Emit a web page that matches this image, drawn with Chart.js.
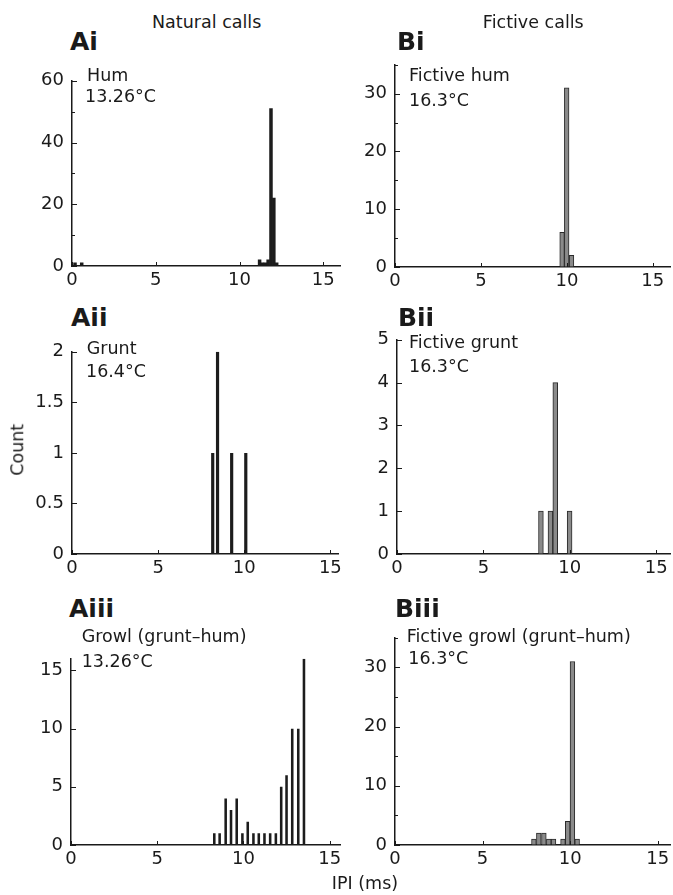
<!DOCTYPE html>
<html><head><meta charset="utf-8">
<script src="https://cdn.jsdelivr.net/npm/chart.js@4.4.1/dist/chart.umd.min.js"></script>
<style>
html,body{margin:0;padding:0;background:#fff;}
#wrap{position:relative;width:673px;height:895px;overflow:hidden;font-family:'DejaVu Sans',sans-serif;color:#1a1a1a;}
canvas{position:absolute;}
.t{position:absolute;white-space:nowrap;line-height:1;font-size:17.5px;}
.b{font-weight:bold;font-size:25px;}
</style></head><body><div id="wrap"></div>
<script>
// ---- data ----
const humIPI = [0.18, 0.58, 11.2, 11.37, 11.54, 11.71, 11.88, 12.05, 12.22];
const humCount = [1, 1, 2, 1, 1, 2, 51, 22, 1];
const gruntIPI = [8.17, 8.45, 9.27, 10.09];
const gruntCount = [1, 2, 1, 1];
const growlIPI = [8.31, 8.62, 8.97, 9.28, 9.61, 9.94, 10.25, 10.58, 10.89, 11.22, 11.55, 11.88, 12.19, 12.5, 12.83, 13.18, 13.51];
const growlCount = [1, 1, 4, 3, 4, 1, 2, 1, 1, 1, 1, 1, 5, 6, 10, 10, 16];
const fHumIPI = [9.72, 9.99, 10.27];
const fHumCount = [6, 31, 2];
const fGruntIPI = [8.33, 8.88, 9.16, 9.99];
const fGruntCount = [1, 1, 4, 1];
const fGrowlIPI = [7.93, 8.21, 8.5, 8.78, 9.05, 9.59, 9.86, 10.13, 10.4];
const fGrowlCount = [1, 2, 2, 1, 1, 1, 4, 31, 1];
const xTickStep = 5;

Chart.defaults.font.family = "'DejaVu Sans', sans-serif";
Chart.defaults.font.size = 17.5;
Chart.defaults.color = '#1a1a1a';

const wrap = document.getElementById('wrap');

const inwardTicks = {
  id: 'inwardTicks',
  afterDraw(chart) {
    const {ctx, scales: {x, y}} = chart;
    ctx.save();
    ctx.strokeStyle = '#1a1a1a';
    ctx.lineWidth = 1;
    ctx.beginPath();
    x.ticks.forEach(t => {
      const px = Math.round(x.getPixelForValue(t.value)) + 0.5;
      ctx.moveTo(px, y.bottom); ctx.lineTo(px, y.bottom - 4);
    });
    y.ticks.forEach(t => {
      const py = Math.round(y.getPixelForValue(t.value)) + 0.5;
      const major = t.label !== '';
      ctx.moveTo(x.left, py); ctx.lineTo(x.left + (major ? 5 : 3), py);
    });
    ctx.stroke();
    ctx.restore();
  }
};

const onStep = (v, step) => Math.abs(v / step - Math.round(v / step)) < 1e-6;

function panel(p) {
  const padL = 70, padT = 12, padR = 6, padB = 32;
  const [L, T, R, B] = p.box;
  const c = document.createElement('canvas');
  const w = (R - L) + padL + padR, h = (B - T) + padT + padB;
  c.width = w; c.height = h;
  c.style.left = (L - padL) + 'px'; c.style.top = (T - padT) + 'px';
  c.style.width = w + 'px'; c.style.height = h + 'px';
  wrap.appendChild(c);
  const natural = p.kind === 'natural';
  new Chart(c, {
    type: 'bar',
    data: {
      datasets: [{
        data: p.xs.map((v, i) => ({x: v, y: p.ys[i]})),
        backgroundColor: natural ? '#1c1c1c' : '#8a8a8a',
        borderColor: natural ? '#1c1c1c' : '#2a2a2a',
        borderWidth: natural ? 0 : 1,
        borderSkipped: 'start',
        barPercentage: p.barPct,
        categoryPercentage: 1
      }]
    },
    options: {
      responsive: false, animation: false, devicePixelRatio: 1,
      layout: {padding: {left: 0, top: padT, right: padR, bottom: 0}},
      plugins: {legend: {display: false}, tooltip: {enabled: false}},
      scales: {
        x: {
          type: 'linear', min: 0, max: p.xMax, offset: false, bounds: 'data',
          grid: {display: true, drawOnChartArea: false, drawTicks: false, offset: false},
          border: {display: true, color: '#1a1a1a', width: 1.5},
          ticks: {stepSize: xTickStep, includeBounds: false, padding: 4, maxRotation: 0,
                  font: {size: 18}},
          afterBuildTicks: s => { s.ticks = s.ticks.filter(t => onStep(t.value, xTickStep)); },
          afterFit: s => { s.height = padB; }
        },
        y: {
          type: 'linear', min: 0, max: p.yMax, bounds: 'data',
          grid: {display: true, drawOnChartArea: false, drawTicks: false},
          border: {display: true, color: '#1a1a1a', width: 1.5},
          ticks: {stepSize: p.yStep, includeBounds: false, padding: 8, font: {size: 18},
                  callback: v => onStep(v, p.yMajor) ? String(v) : ''},
          afterBuildTicks: s => { s.ticks = s.ticks.filter(t => onStep(t.value, p.yStep)); },
          afterFit: s => { s.width = padL; }
        }
      }
    },
    plugins: [inwardTicks]
  });
}

panel({kind: 'natural', xs: humIPI, ys: humCount, box: [72, 74, 340, 266], xMax: 16, yMax: 60, yStep: 10, yMajor: 20, barPct: 1});
panel({kind: 'fictive', xs: fHumIPI, ys: fHumCount, box: [395, 58, 670, 267], xMax: 16, yMax: 35, yStep: 5, yMajor: 10, barPct: 1});
panel({kind: 'natural', xs: gruntIPI, ys: gruntCount, box: [72, 345, 340, 554], xMax: 15.5, yMax: 2, yStep: 0.5, yMajor: 0.5, barPct: 0.66});
panel({kind: 'fictive', xs: fGruntIPI, ys: fGruntCount, box: [397, 333, 670, 554], xMax: 15.8, yMax: 5, yStep: 1, yMajor: 1, barPct: 1});
panel({kind: 'natural', xs: growlIPI, ys: growlCount, box: [71, 652, 340, 845], xMax: 15.6, yMax: 16, yStep: 5, yMajor: 5, barPct: 0.48});
panel({kind: 'fictive', xs: fGrowlIPI, ys: fGrowlCount, box: [395, 631, 670, 845], xMax: 15.7, yMax: 35, yStep: 5, yMajor: 10, barPct: 1});

// ---- text ----
const texts = [
  {s: 'Natural calls', cx: 206.7, base: 29},
  {s: 'Fictive calls', cx: 533.3, base: 29},
  {s: 'Ai', x: 70, base: 50, bold: true},
  {s: 'Bi', x: 397, base: 50, bold: true},
  {s: 'Aii', x: 71, base: 326, bold: true},
  {s: 'Bii', x: 398, base: 326, bold: true},
  {s: 'Aiii', x: 69, base: 617, bold: true},
  {s: 'Biii', x: 395, base: 617, bold: true},
  {s: 'Hum', x: 87, base: 81.7},
  {s: '13.26°C', x: 85, base: 103.3},
  {s: 'Fictive hum', x: 409, base: 81.7},
  {s: '16.3°C', x: 409, base: 106.7},
  {s: 'Grunt', x: 86.7, base: 355},
  {s: '16.4°C', x: 86, base: 378.3},
  {s: 'Fictive grunt', x: 409, base: 349.3},
  {s: '16.3°C', x: 409, base: 373.3},
  {s: 'Growl (grunt–hum)', x: 81.7, base: 642.7},
  {s: '13.26°C', x: 81.7, base: 668},
  {s: 'Fictive growl (grunt–hum)', x: 406.7, base: 643.3},
  {s: '16.3°C', x: 408.3, base: 665},
  {s: 'IPI (ms)', cx: 365, base: 890}
];
texts.forEach(t => {
  const d = document.createElement('div');
  d.className = 't' + (t.bold ? ' b' : '');
  d.textContent = t.s;
  const fs = t.bold ? 25 : 17.5;
  d.style.top = (t.base - 0.846 * fs) + 'px';
  if (t.cx !== undefined) {
    d.style.left = (t.cx - 150) + 'px'; d.style.width = '300px'; d.style.textAlign = 'center';
  } else {
    d.style.left = t.x + 'px';
  }
  wrap.appendChild(d);
});
const cnt = document.createElement('div');
cnt.className = 't';
cnt.textContent = 'Count';
cnt.style.left = (18.3 - 50) + 'px';
cnt.style.top = (449.3 - 8.75) + 'px';
cnt.style.width = '100px';
cnt.style.textAlign = 'center';
cnt.style.transform = 'rotate(-90deg)';
wrap.appendChild(cnt);
</script></body></html>
